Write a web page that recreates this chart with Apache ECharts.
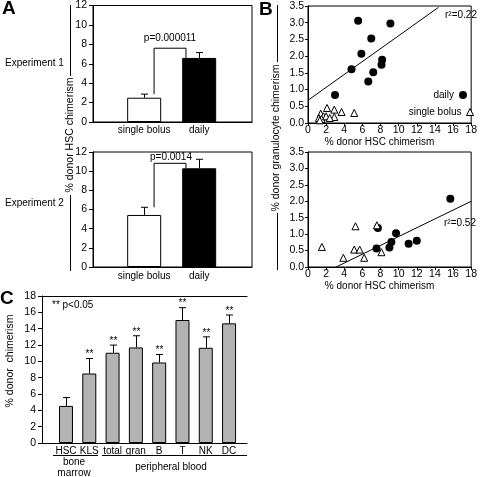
<!DOCTYPE html>
<html>
<head>
<meta charset="utf-8">
<script src="https://cdn.jsdelivr.net/npm/echarts@6/dist/echarts.min.js"></script>
<style>html,body{margin:0;padding:0;background:#fff;}#c{width:480px;height:477px;}</style>
</head>
<body>
<div id="c"></div>
<script>
// ---------- data ----------
const catsA = ['single bolus', 'daily'];
const exp1Mean = [2.5, 6.6];
const exp1Err = [0.37, 0.55];
const exp2Mean = [5.43, 10.3];
const exp2Err = [0.8, 0.94];
const bracket1 = [[0.18, 2.87], [0.18, 7.6], [0.76, 7.6], [0.76, 6.6]];
const bracket2 = [[0.18, 6.23], [0.18, 10.82], [0.76, 10.82], [0.76, 10.3]];

const dailyTop = [[5.53, 3.06], [9.09, 2.98], [6.98, 2.53], [5.89, 2.07], [4.8, 1.61], [8.18, 1.89], [8.11, 1.74], [7.2, 1.52], [6.65, 1.24], [2.98, 0.84]];
const bolusTop = [[2.1, 0.45], [2.9, 0.4], [3.7, 0.33], [5.1, 0.3], [2.9, 0.18], [1.4, 0.28], [1.7, 0.2], [1.2, 0.15], [1.5, 0.12], [2.0, 0.2], [2.4, 0.15], [1.3, 0.08]];
const fitTop = [[0, 0.68], [14.4, 3.46]];
const dailyBottom = [[15.7, 2.08], [7.71, 1.19], [9.71, 1.03], [9.2, 0.76], [12.0, 0.8], [11.1, 0.71], [8.98, 0.59], [7.56, 0.56]];
const bolusBottom = [[1.53, 0.61], [5.24, 1.24], [5.1, 0.53], [5.7, 0.53], [3.9, 0.28], [6.2, 0.28], [8.1, 0.45], [7.6, 1.27]];
const fitBottom = [[3.1, 0], [18, 2.0]];

const catsC = ['HSC', 'KLS', 'total', 'gran', 'B', 'T', 'NK', 'DC'];
const meanC = [4.54, 8.51, 11.05, 11.7, 9.86, 15.06, 11.66, 14.65];
const errC = [1.02, 1.84, 0.94, 1.43, 0.98, 1.51, 1.34, 1.02];
const sigC = ['', '**', '**', '**', '**', '**', '**', '**'];

// ---------- styles ----------
const NF = "'Liberation Sans', Arial, sans-serif";
const RF = "'Liberation Sans', Arial, sans-serif";
const FS = 10;
const BLK = '#000';
const axLine = { show: true, onZero: false, lineStyle: { color: BLK, width: 1 } };
const lbl = (m, extra) => Object.assign({ color: BLK, fontSize: FS, fontFamily: NF, margin: m }, extra || {});

function errRender(sig, half) {
  return function (params, api) {
    const x = api.value(0), y = api.value(1), e = api.value(2);
    const p0 = api.coord([x, y]), p1 = api.coord([x, y + e]);
    const cx = Math.round(p0[0]) + 0.5;
    const ch = [
      { type: 'line', shape: { x1: cx, y1: p0[1], x2: cx, y2: p1[1] }, style: { stroke: BLK, lineWidth: 1 } },
      { type: 'line', shape: { x1: cx - half, y1: p1[1], x2: cx + half, y2: p1[1] }, style: { stroke: BLK, lineWidth: 1 } }
    ];
    if (sig && sig[params.dataIndex]) {
      ch.push({ type: 'text', style: { text: sig[params.dataIndex], x: cx, y: p1[1] - 9, textAlign: 'center', textVerticalAlign: 'top', fontSize: 10, fontFamily: RF, fill: BLK } });
    }
    return { type: 'group', children: ch };
  };
}

const barStyleA = [
  { color: '#fff', borderColor: BLK, borderWidth: 1 },
  { color: '#000', borderColor: BLK, borderWidth: 1 }
];

function xA(gi) {
  return { gridIndex: gi, type: 'value', min: -0.93, max: 1.96, axisLine: axLine, axisTick: { show: false }, splitLine: { show: false },
    axisLabel: lbl(gi === 0 ? 3 : 4, { customValues: [0, 1], formatter: v => catsA[Math.round(v)] }) };
}
function yA(gi) {
  return { gridIndex: gi, type: 'value', min: 0, max: 12, interval: 2, axisLine: axLine, axisTick: { show: true, length: 4, lineStyle: { color: BLK } }, splitLine: { show: false }, axisLabel: lbl(6, { fontSize: 10.5 }) };
}
function xB(gi) {
  return { gridIndex: gi, type: 'value', min: 0, max: 18, interval: 2, axisLine: axLine, axisTick: { show: true, length: 3, lineStyle: { color: BLK } }, splitLine: { show: false },
    axisLabel: lbl(2, { fontSize: 10.5 }), name: '% donor HSC chimerism', nameLocation: 'middle', nameGap: 11,
    nameTextStyle: { color: BLK, fontSize: FS, fontFamily: NF, verticalAlign: 'top', padding: [0, 20, 0, 0] } };
}
function yB(gi) {
  return { gridIndex: gi, type: 'value', min: 0, max: 3.5, interval: 0.5, axisLine: axLine, axisTick: { show: true, length: 3, lineStyle: { color: BLK } }, splitLine: { show: false },
    axisLabel: lbl(4, { fontSize: 10.5, formatter: v => v.toFixed(1) }) };
}

const gridBox = { show: true, borderColor: BLK, borderWidth: 1, backgroundColor: 'transparent' };

function barsA(gi, mean, err, br) {
  return [
    { type: 'bar', xAxisIndex: gi, yAxisIndex: gi, barWidth: 34, z: 2,
      data: catsA.map((c, i) => ({ value: [i, mean[i]], itemStyle: barStyleA[i] })) },
    { type: 'custom', xAxisIndex: gi, yAxisIndex: gi, z: 3, renderItem: errRender(null, 3.5),
      data: catsA.map((c, i) => [i, mean[i], err[i]]) },
    { type: 'line', xAxisIndex: gi, yAxisIndex: gi, z: 4, data: br, showSymbol: false, symbol: 'none',
      lineStyle: { color: BLK, width: 1 } }
  ];
}
function scatB(gi, daily, bolus, fit) {
  return [
    { name: 'daily', type: 'scatter', xAxisIndex: gi, yAxisIndex: gi, symbol: 'circle', symbolSize: 8, data: daily, z: 3,
      itemStyle: { color: '#000', borderColor: '#000', borderWidth: 0, opacity: 1 } },
    { name: 'single bolus', type: 'scatter', xAxisIndex: gi, yAxisIndex: gi, symbol: 'triangle', symbolSize: 7, data: bolus, z: 4,
      itemStyle: { color: '#fff', borderColor: '#000', borderWidth: 1, opacity: 1 } },
    { name: 'fit' + gi, type: 'line', xAxisIndex: gi, yAxisIndex: gi, data: fit, showSymbol: false, symbol: 'none', z: 2,
      lineStyle: { color: BLK, width: 1 } }
  ];
}

const txt = (t, x, y, o) => ({ type: 'text', x: x, y: y, silent: true,
  style: Object.assign({ text: t, fill: BLK, fontSize: FS, fontFamily: NF, textAlign: 'left', textVerticalAlign: 'middle' }, o || {}) });
const vtxt = (t, x, y) => ({ type: 'text', x: x, y: y, rotation: Math.PI / 2, silent: true,
  style: { text: t, fill: BLK, fontSize: 10.5, fontFamily: RF, textAlign: 'center', textVerticalAlign: 'middle' } });
const ln = (x1, y1, x2, y2) => ({ type: 'line', silent: true, shape: { x1: x1, y1: y1, x2: x2, y2: y2 }, style: { stroke: BLK, lineWidth: 1 } });

const option = {
  animation: false,
  backgroundColor: '#fff',
  grid: [
    Object.assign({ left: 93, top: 5, width: 159, height: 117 }, gridBox),
    Object.assign({ left: 93, top: 152, width: 159, height: 115 }, gridBox),
    Object.assign({ left: 308, top: 6, width: 165, height: 117 }, gridBox),
    Object.assign({ left: 308, top: 152, width: 165, height: 115 }, gridBox),
    { left: 42, top: 296, width: 205, height: 147, show: false }
  ],
  xAxis: [
    xA(0), xA(1), xB(2), xB(3),
    { gridIndex: 4, type: 'value', min: -1.03, max: 7.77, axisLine: axLine, axisTick: { show: false }, splitLine: { show: false },
      axisLabel: lbl(3, { customValues: [0, 1, 2, 3, 4, 5, 6, 7], formatter: v => catsC[Math.round(v)] }) },
    { gridIndex: 4, type: 'value', position: 'top', min: -1.03, max: 7.77, axisLine: axLine, axisTick: { show: false }, axisLabel: { show: false }, splitLine: { show: false } }
  ],
  yAxis: [
    yA(0), yA(1), yB(2), yB(3),
    { gridIndex: 4, type: 'value', min: 0, max: 18, interval: 2, axisLine: axLine, axisTick: { show: true, length: 4, lineStyle: { color: BLK } }, splitLine: { show: false }, axisLabel: lbl(6, { fontSize: 10.5 }) }
  ],
  legend: [
    { data: ['daily'], orient: 'horizontal', align: 'right', right: 13, top: 90, padding: 0, itemWidth: 8, itemHeight: 8,
      itemStyle: { borderWidth: 0 },
      textStyle: { color: BLK, fontSize: FS, fontFamily: NF }, selectedMode: false },
    { data: ['single bolus'], orient: 'horizontal', align: 'right', right: 6, top: 107, padding: 0, itemWidth: 7, itemHeight: 7,
      itemStyle: { borderWidth: 1 },
      textStyle: { color: BLK, fontSize: FS, fontFamily: NF }, selectedMode: false }
  ],
  series: [].concat(
    barsA(0, exp1Mean, exp1Err, bracket1),
    barsA(1, exp2Mean, exp2Err, bracket2),
    scatB(2, dailyTop, bolusTop, fitTop),
    scatB(3, dailyBottom, bolusBottom, fitBottom),
    [
      { type: 'bar', xAxisIndex: 4, yAxisIndex: 4, barWidth: 14, z: 2,
        itemStyle: { color: '#b3b3b3', borderColor: BLK, borderWidth: 1 },
        data: catsC.map((c, i) => [i, meanC[i]]) },
      { type: 'custom', xAxisIndex: 4, yAxisIndex: 4, z: 3, renderItem: errRender(sigC, 3.5),
        data: catsC.map((c, i) => [i, meanC[i], errC[i]]) }
    ]
  ),
  graphic: { elements: [
    txt('A', 2, 9, { fontSize: 19, fontWeight: 'bold' }),
    txt('B', 259, 10, { fontSize: 19, fontWeight: 'bold' }),
    txt('C', 0, 299, { fontSize: 19, fontWeight: 'bold' }),
    txt('Experiment 1', 5, 63),
    txt('Experiment 2', 5, 203),
    vtxt('% donor HSC chimerism', 70, 135),
    ln(70.5, 5, 70.5, 76), ln(70.5, 195, 70.5, 271),
    vtxt('% donor granulocyte chimerism', 276, 138),
    ln(277.5, 5, 277.5, 62), ln(277.5, 213, 277.5, 270),
    txt('p=0.000011', 170, 38, { textAlign: 'center' }),
    txt('p=0.0014', 171, 157, { textAlign: 'center' }),
    txt('r\u00b2=0.22', 461, 15, { textAlign: 'center' }),
    txt('r\u00b2=0.52', 460, 223, { textAlign: 'center' }),
    txt('** p<0.05', 52, 305),
    ln(53, 455.5, 98, 455.5), ln(102, 455.5, 247, 455.5),
    txt('bone', 74, 462, { textAlign: 'center' }),
    txt('marrow', 74, 473, { textAlign: 'center' }),
    txt('peripheral blood', 171, 467, { textAlign: 'center' }),
    vtxt('% donor  chimerism', 10, 361)
  ] }
};

const chart = echarts.init(document.getElementById('c'), null, { renderer: 'canvas' });
chart.setOption(option);
</script>
</body>
</html>
